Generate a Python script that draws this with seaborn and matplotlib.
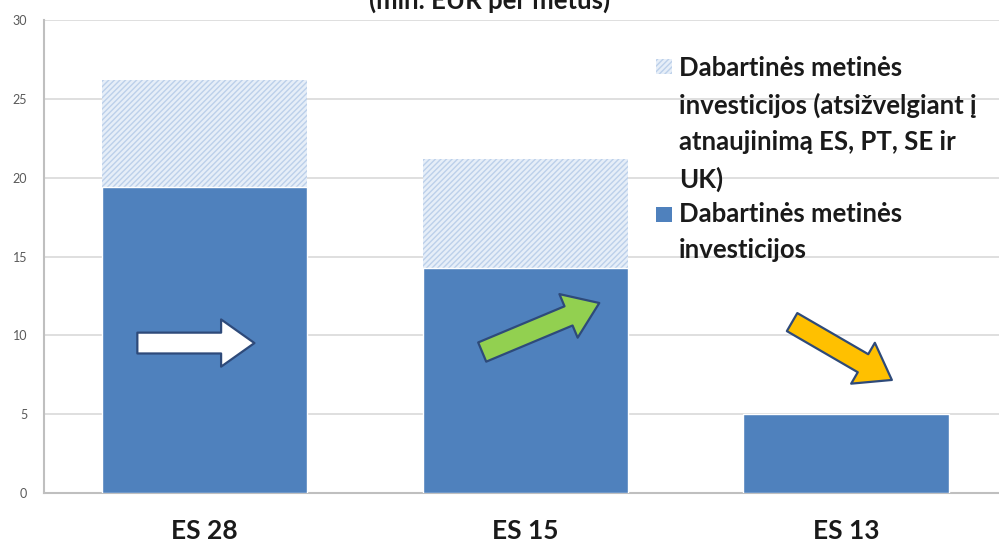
import matplotlib
matplotlib.use("Agg")
import matplotlib.pyplot as plt
import pandas as pd
import seaborn as sns
from matplotlib.patches import FancyArrowPatch, Rectangle

# chart data
regions = ["ES 28", "ES 15", "ES 13"]
current_invest = [19.4, 14.3, 5.0]
with_refurb = [26.2, 21.2, 5.0]
yticks = [0, 5, 10, 15, 20, 25, 30]

label_refurb = "Dabartinės metinės\ninvesticijos (atsižvelgiant į\natnaujinimą ES, PT, SE ir\nUK)"
label_current = "Dabartinės metinės\ninvesticijos"
title = "(mln. EUR per metus)"

BLUE = "#4f81bd"
HATCH_FACE = "#e6eef8"
HATCH_LINE = "#bcd0ea"
TEXT = "#1a1a1a"

df = pd.DataFrame({"region": regions, "current": current_invest, "total": with_refurb})

sns.set_style("white")
plt.rcParams["font.family"] = ["Lato", "DejaVu Sans"]
plt.rcParams["hatch.linewidth"] = 1.0

W, H = 999, 546
fig = plt.figure(figsize=(W / 100, H / 100), dpi=100)
ax = fig.add_axes([44 / W, 53 / H, 955 / W, 473 / H])

sns.barplot(data=df, x="region", y="total", color=HATCH_FACE, width=0.64,
            saturation=1, ax=ax, zorder=2)
for p in ax.patches:
    p.set_hatch("//////")
    p.set_edgecolor(HATCH_LINE)
    p.set_linewidth(0)
sns.barplot(data=df, x="region", y="current", color=BLUE, width=0.64,
            saturation=1, ax=ax, zorder=3)

ax.set_xlim(-0.5, 2.477)
ax.set_ylim(0, 30)
ax.set_yticks(yticks)
ax.set_xlabel("")
ax.set_ylabel("")
ax.yaxis.grid(True, color="#d9d9d9", linewidth=1.2, zorder=0)
ax.set_axisbelow(True)
for side in ["top", "right"]:
    ax.spines[side].set_visible(False)
for side in ["left", "bottom"]:
    ax.spines[side].set_color("#bfbfbf")
    ax.spines[side].set_linewidth(1.5)
ax.tick_params(axis="y", labelsize=9, labelcolor="#595959", length=0, pad=12)
ax.tick_params(axis="x", length=0, pad=19)
for t in ax.get_xticklabels():
    t.set_fontsize(19)
    t.set_fontweight("bold")
    t.set_color(TEXT)

# trend arrows
arrows = [
    ((-0.209, 9.51), (0.156, 9.51), "white"),
    ((0.866, 8.94), (1.231, 12.05), "#92d050"),
    ((1.832, 10.84), (2.143, 7.17), "#ffc000"),
]
for start, end, col in arrows:
    ax.add_patch(FancyArrowPatch(
        start, end,
        arrowstyle="simple,head_length=24,head_width=34,tail_width=15",
        mutation_scale=1, facecolor=col, edgecolor="#2e4a7a",
        linewidth=1.6, zorder=5, shrinkA=0, shrinkB=0))

# legend, drawn by hand so the key sits on the first text line
def fx(px):
    return px / W


def fy(py):
    return 1 - py / H


fig.patches.append(Rectangle((fx(656), fy(74)), 16 / W, 15 / H, transform=fig.transFigure,
                             facecolor=HATCH_FACE, edgecolor=HATCH_LINE, hatch="//////",
                             linewidth=0))
fig.patches.append(Rectangle((fx(656), fy(222)), 16 / W, 15 / H, transform=fig.transFigure,
                             facecolor=BLUE, edgecolor=BLUE, linewidth=0))
for label, top in [(label_refurb, 56), (label_current, 202)]:
    fig.text(fx(679), fy(top), label, ha="left", va="top", fontsize=18.5,
             fontweight="bold", color=TEXT, linespacing=1.6)

fig.text(0.49, 1 - 13 / H, title, ha="center", va="bottom",
         fontsize=18.5, fontweight="bold", color=TEXT)

fig.savefig("out.png", dpi=100)
